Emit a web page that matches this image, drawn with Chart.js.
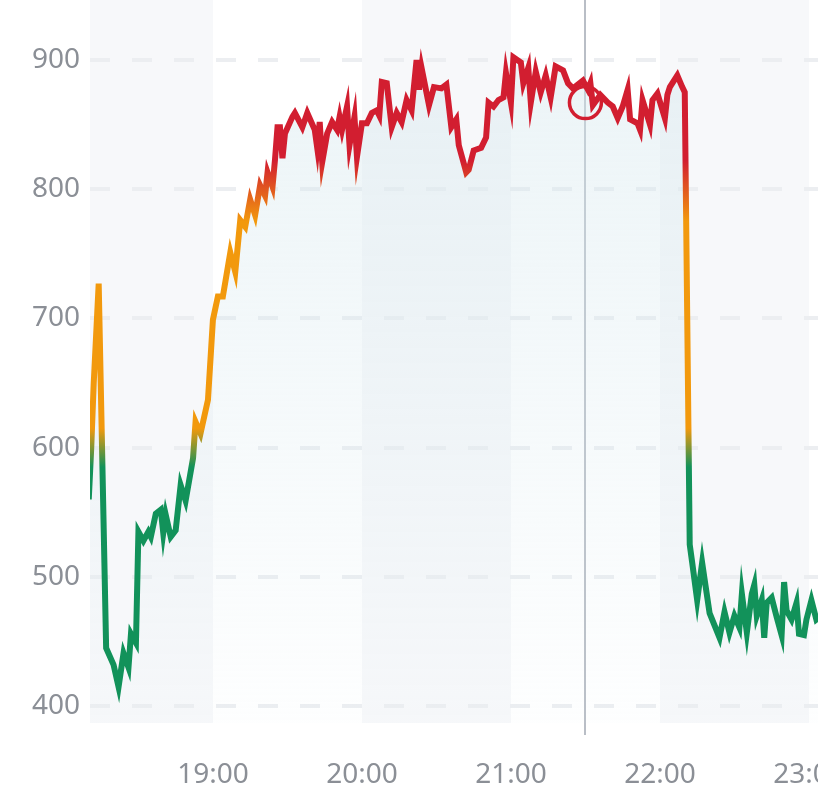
<!DOCTYPE html>
<html>
<head>
<meta charset="utf-8">
<script src="https://cdn.jsdelivr.net/npm/chart.js@4.4.1/dist/chart.umd.min.js"></script>
<style>
  html, body { margin: 0; padding: 0; background: #fff; overflow: hidden; }
  #wrap { position: relative; width: 880px; height: 809px; }
</style>
</head>
<body>
<div id="wrap"><canvas id="chart"></canvas></div>
<script>
// readings, one list of clock times and one of values
const times = [
  "18:10","18:11","18:12","18:14","18:17","18:20","18:22","18:24","18:26","18:27","18:29","18:30","18:32","18:34","18:35","18:37","18:39","18:40","18:41","18:43","18:45","18:47","18:49","18:52","18:53","18:55","18:58",
  "19:00","19:02","19:04","19:07","19:09","19:11","19:13","19:15","19:17","19:19","19:21","19:22","19:24","19:25","19:26","19:27","19:28","19:29","19:32","19:33","19:36","19:38","19:41","19:42","19:43","19:44","19:46","19:48","19:50","19:51","19:52","19:54","19:55","19:57","19:58",
  "20:00","20:02","20:04","20:06","20:07","20:08","20:10","20:12","20:14","20:16","20:18","20:20","20:22","20:23","20:24","20:27","20:29","20:32","20:34","20:36","20:38","20:39","20:42","20:43","20:45","20:48","20:50","20:51","20:53","20:55","20:57","20:58",
  "21:00","21:01","21:04","21:05","21:07","21:08","21:10","21:12","21:14","21:16","21:18","21:21","21:23","21:25","21:29","21:31","21:32","21:33","21:36","21:39","21:41","21:43","21:45","21:47","21:48","21:51","21:52","21:53","21:56","21:57","21:59",
  "22:02","22:03","22:04","22:07","22:09","22:10","22:12","22:13","22:15","22:17","22:20","22:24","22:26","22:28","22:30","22:32","22:33","22:35","22:37","22:38","22:39","22:41","22:42","22:43","22:45","22:47","22:49","22:50","22:51","22:53","22:55","22:56","22:58","22:59","23:01","23:03","23:05"
];
const values = [
  560,600,650,727,445,432,415,441,430,456,449,535,528,535,531,549,552,534,548,531,536,571,559,592,620,611,637,
  699,717,717,751,736,776,771,792,780,803,795,813,802,823,848,848,824,843,856,859,848,859,846,832,852,821,843,852,846,856,846,864,834,856,825,
  851,851,859,861,857,883,882,848,859,852,869,861,900,877,894,865,879,878,881,848,854,834,813,815,830,832,840,867,864,869,871,890,
  867,902,898,882,894,867,891,875,888,871,895,892,882,878,884,877,882,865,873,867,864,855,864,877,854,851,846,869,850,869,874,
  855,873,879,888,879,875,525,511,482,511,472,453,473,457,470,461,487,457,487,494,470,482,453,480,484,469,455,496,474,467,480,456,455,467,482,467,470
];
const yTicks = [400, 500, 600, 700, 800, 900];
const hourTicks = ["19:00", "20:00", "21:00", "22:00", "23:00"];
const shadedHours = [["18:00", "19:00"], ["20:00", "21:00"], ["22:00", "23:00"]];
const cursorTime = "21:30";
const cursorValue = 867;

const BASE = 18 * 60;
const toMin = (s) => {
  const [h, m] = s.split(":").map(Number);
  return h * 60 + m - BASE;
};
const fmt = (v) => {
  const t = Math.round(v) + BASE;
  return String(Math.floor(t / 60)).padStart(2, "0") + ":" + String(t % 60).padStart(2, "0");
};

const points = times.map((t, i) => ({ x: toMin(t), y: values[i] }));

const GREEN = "#12925a", ORANGE = "#f2990d", RED = "#d21e30";

// line colour follows the value: green low, orange middle, red high
function lineGradient(ctx) {
  const chart = ctx.chart;
  if (!chart.chartArea) return RED;
  const y = chart.scales.y;
  const lo = yTicks[0], hi = yTicks[yTicks.length - 1];
  const g = chart.ctx.createLinearGradient(0, y.getPixelForValue(lo), 0, y.getPixelForValue(hi));
  const at = (v) => (v - lo) / (hi - lo);
  g.addColorStop(0, GREEN);
  g.addColorStop(at(585), GREEN);
  g.addColorStop(at(615), ORANGE);
  g.addColorStop(at(775), ORANGE);
  g.addColorStop(at(822), RED);
  g.addColorStop(1, RED);
  return g;
}

function fillGradient(ctx) {
  const chart = ctx.chart;
  if (!chart.chartArea) return "rgba(214,232,238,0.3)";
  const { top, bottom } = chart.chartArea;
  const g = chart.ctx.createLinearGradient(0, top, 0, bottom);
  g.addColorStop(0, "rgba(214,232,238,0.5)");
  g.addColorStop(1, "rgba(214,232,238,0.04)");
  return g;
}

const bands = {
  id: "bands",
  beforeDraw(chart) {
    const { ctx, chartArea, scales } = chart;
    ctx.save();
    ctx.fillStyle = "rgba(242,244,247,0.6)";
    shadedHours.forEach(([a, b]) => {
      const x0 = Math.max(scales.x.getPixelForValue(toMin(a)), chartArea.left);
      const x1 = scales.x.getPixelForValue(toMin(b));
      ctx.fillRect(x0, chartArea.top, x1 - x0, chartArea.bottom - chartArea.top);
    });
    ctx.restore();
  }
};

const cursor = {
  id: "cursor",
  beforeDatasetsDraw(chart) {
    const { ctx, chartArea, scales } = chart;
    const x = Math.round(scales.x.getPixelForValue(toMin(cursorTime)));
    ctx.save();
    ctx.strokeStyle = "#b9bec6";
    ctx.lineWidth = 2;
    ctx.beginPath();
    ctx.moveTo(x, chartArea.top);
    ctx.lineTo(x, chartArea.bottom + 12);
    ctx.stroke();
    ctx.restore();
  }
};

const tickFont = { family: "'Noto Sans', sans-serif", size: 28 };
const tickColor = "#8b8f96";

// no extra room for edge labels: the plot fills the canvas
const noPad = (s) => {
  s.paddingTop = 0; s.paddingBottom = 0; s.paddingLeft = 0; s.paddingRight = 0;
};

new Chart(document.getElementById("chart"), {
  type: "line",
  data: {
    datasets: [
      {
        data: points,
        borderColor: lineGradient,
        backgroundColor: fillGradient,
        borderWidth: 6,
        pointRadius: 0,
        tension: 0,
        fill: "start",
        order: 2,
      },
      {
        data: [{ x: toMin(cursorTime), y: cursorValue }],
        showLine: false,
        pointRadius: 16,
        pointBorderWidth: 3.5,
        pointBorderColor: RED,
        pointBackgroundColor: "rgba(0,0,0,0)",
        order: 1,
      },
    ],
  },
  options: {
    responsive: true,
    maintainAspectRatio: false,
    animation: false,
    layout: { padding: 0, autoPadding: false },
    plugins: { legend: { display: false }, tooltip: { enabled: false } },
    scales: {
      x: {
        type: "linear",
        min: 10.5,
        max: 10.5 + (790 * 60) / 149,
        afterFit: (s) => { s.height = 86; noPad(s); },
        grid: { display: false, drawTicks: false },
        border: { display: false },
        ticks: {
          stepSize: 60,
          includeBounds: false,
          padding: 35,
          maxRotation: 0,
          autoSkip: false,
          font: tickFont,
          color: tickColor,
          callback: (v) => (hourTicks.includes(fmt(v)) ? fmt(v) : null),
        },
      },
      y: {
        min: 387,
        max: 946.4,
        afterFit: (s) => { s.width = 90; noPad(s); },
        grid: { color: "#eceef1", lineWidth: 4, drawTicks: false },
        border: { display: false, dash: [20, 22] },
        ticks: {
          stepSize: 100,
          includeBounds: false,
          padding: 10,
          font: tickFont,
          color: tickColor,
        },
      },
    },
  },
  plugins: [bands, cursor],
});
</script>
</body>
</html>
